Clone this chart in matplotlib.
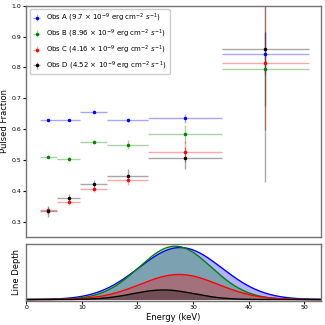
import numpy as np
import matplotlib
matplotlib.use("Agg")
import matplotlib.pyplot as plt

# Energy bins (keV)
bin_lo = [2.4, 5.5, 9.7, 14.6, 21.9, 35.3]
bin_hi = [5.5, 9.7, 14.6, 21.9, 35.3, 50.8]

labels = [r"Obs A (9.7 $\times$ 10$^{-9}$ erg cm$^{-2}$ $s^{-1}$)",
          r"Obs B (8.96 $\times$ 10$^{-9}$ erg cm$^{-2}$ $s^{-1}$)",
          r"Obs C (4.16 $\times$ 10$^{-9}$ erg cm$^{-2}$ $s^{-1}$)",
          r"Obs D (4.52 $\times$ 10$^{-9}$ erg cm$^{-2}$ $s^{-1}$)"]
colors = ["blue", "green", "red", "black"]

pf_a = [0.629, 0.629, 0.657, 0.630, 0.635, 0.844]
pf_b = [0.511, 0.502, 0.559, 0.549, 0.584, 0.795]
pf_c = [0.336, 0.364, 0.407, 0.436, 0.527, 0.815]
pf_d = [0.333, 0.375, 0.421, 0.449, 0.506, 0.860]

err_a = [0.004, 0.004, 0.005, 0.007, 0.014, 0.07]
err_b = [0.006, 0.007, 0.007, 0.014, 0.030, 0.12]
err_c = [0.012, 0.012, 0.012, 0.018, 0.035, 0.217]
err_d = [0.018, 0.015, 0.015, 0.020, 0.037, 0.433]

# Gaussian line-depth profiles: (amplitude, centre keV, sigma keV)
line_a = (0.975, 27.7, 7.5)
line_b = (1.000, 26.8, 6.5)
line_c = (0.470, 27.5, 7.0)
line_d = (0.180, 24.7, 5.5)

pfs = [pf_a, pf_b, pf_c, pf_d]
errs = [err_a, err_b, err_c, err_d]
lines = [line_a, line_b, line_c, line_d]

fig = plt.figure(figsize=(3.25, 3.25), dpi=100)
ax1 = fig.add_axes([0.081, 0.271, 0.906, 0.711])
ax2 = fig.add_axes([0.081, 0.075, 0.906, 0.174], sharex=ax1)

lo = np.array(bin_lo)
hi = np.array(bin_hi)
xc = (lo + hi) / 2
xe = (hi - lo) / 2

for pf, er, c, lab in zip(pfs, errs, colors, labels):
    ax1.errorbar(xc, pf, xerr=xe, yerr=er, fmt='.', color=c, ms=3,
                 ecolor=matplotlib.colors.to_rgba(c, 0.35), elinewidth=1,
                 label=lab)

ax1.set_ylim(0.25, 1.0)
ax1.set_xlim(0, 53)
ax1.set_ylabel("Pulsed Fraction", fontsize=6, labelpad=2)
ax1.tick_params(axis='y', labelsize=4.5, length=2, pad=1.5)
ax1.tick_params(axis='x', bottom=False, labelbottom=False)
ax1.set_yticks([0.3, 0.4, 0.5, 0.6, 0.7, 0.8, 0.9, 1.0])
ax1.legend(loc='upper left', fontsize=5, handlelength=1.2, borderpad=0.4,
           labelspacing=0.5, handletextpad=0.8, framealpha=1)

E = np.linspace(0, 53, 600)
for (amp, mu, sig), c in zip(lines, colors):
    prof = amp * np.exp(-0.5 * ((E - mu) / sig) ** 2)
    ax2.fill_between(E, 0, prof, color=c, alpha=0.3, lw=0)
    ax2.plot(E, prof, color=c, lw=1)

ax2.set_ylim(-0.02, 1.04)
ax2.set_yticks([])
ax2.set_ylabel("Line Depth", fontsize=6, labelpad=4)
ax2.set_xlabel("Energy (keV)", fontsize=6, labelpad=2)
ax2.set_xticks([0, 10, 20, 30, 40, 50])
ax2.tick_params(axis='x', labelsize=4.5, length=2, pad=1.5)

for ax in (ax1, ax2):
    for s in ax.spines.values():
        s.set_color('0.45')
        s.set_linewidth(1.0)

fig.savefig("out.png", dpi=100)
